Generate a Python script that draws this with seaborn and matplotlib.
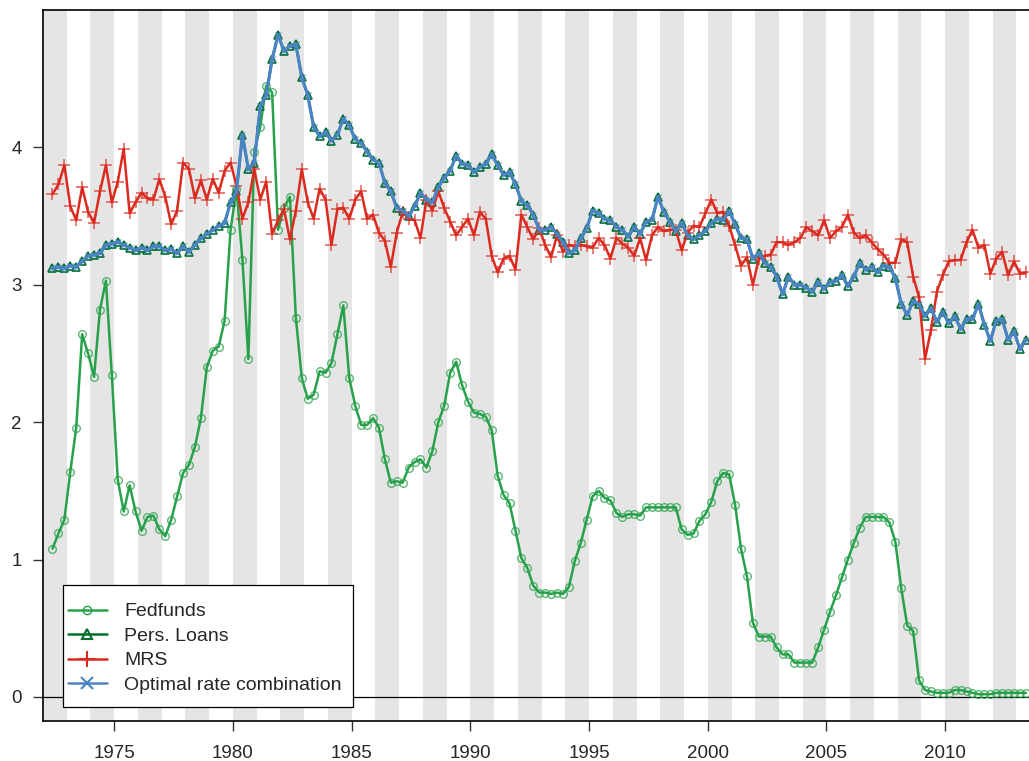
import numpy as np
import pandas as pd
import matplotlib
matplotlib.use('Agg')
import matplotlib.pyplot as plt
from matplotlib.lines import Line2D
from matplotlib.patches import Rectangle
import seaborn as sns

sns.set_style('white')
plt.rcParams['font.family'] = ['Liberation Sans', 'DejaVu Sans']

# quarterly observations, first one in 1972Q2
start_year = 1972.4

fedfunds = [1.08, 1.19, 1.29, 1.64, 1.96, 2.64, 2.50, 2.33, 2.82, 3.03,
            2.34, 1.58, 1.35, 1.54, 1.35, 1.21, 1.31, 1.32, 1.22, 1.17,
            1.29, 1.46, 1.63, 1.69, 1.82, 2.03, 2.40, 2.52, 2.55, 2.74,
            3.40, 3.70, 3.18, 2.46, 3.97, 4.15, 4.45, 4.40, 3.40, 3.56,
            3.64, 2.76, 2.32, 2.17, 2.20, 2.37, 2.36, 2.43, 2.64, 2.85,
            2.32, 2.12, 1.98, 1.98, 2.03, 1.96, 1.73, 1.56, 1.57, 1.56,
            1.67, 1.71, 1.73, 1.67, 1.79, 2.00, 2.12, 2.36, 2.44, 2.27,
            2.15, 2.07, 2.06, 2.04, 1.94, 1.61, 1.47, 1.41, 1.21, 1.01,
            0.94, 0.81, 0.76, 0.76, 0.75, 0.76, 0.75, 0.80, 0.99, 1.12,
            1.29, 1.46, 1.50, 1.45, 1.43, 1.34, 1.31, 1.33, 1.33, 1.32,
            1.38, 1.38, 1.38, 1.38, 1.38, 1.38, 1.22, 1.18, 1.19, 1.28,
            1.33, 1.42, 1.57, 1.63, 1.62, 1.40, 1.08, 0.88, 0.54, 0.44,
            0.44, 0.44, 0.36, 0.31, 0.31, 0.25, 0.25, 0.25, 0.25, 0.36,
            0.49, 0.62, 0.74, 0.87, 1.00, 1.12, 1.23, 1.31, 1.31, 1.31,
            1.31, 1.27, 1.13, 0.79, 0.52, 0.48, 0.12, 0.05, 0.04, 0.03,
            0.03, 0.03, 0.05, 0.05, 0.04, 0.03, 0.02, 0.02, 0.02, 0.03,
            0.03, 0.03, 0.03, 0.03, 0.03]

pers_loans = [3.12, 3.13, 3.12, 3.14, 3.13, 3.17, 3.21, 3.22, 3.23, 3.29,
              3.30, 3.31, 3.29, 3.27, 3.25, 3.27, 3.25, 3.28, 3.28, 3.25,
              3.26, 3.23, 3.28, 3.24, 3.29, 3.34, 3.37, 3.40, 3.43, 3.45,
              3.60, 3.68, 4.09, 3.84, 3.89, 4.30, 4.38, 4.64, 4.82, 4.70,
              4.74, 4.75, 4.51, 4.38, 4.15, 4.08, 4.11, 4.05, 4.09, 4.21,
              4.16, 4.06, 4.03, 3.97, 3.91, 3.89, 3.74, 3.68, 3.56, 3.54,
              3.50, 3.57, 3.67, 3.62, 3.60, 3.71, 3.78, 3.83, 3.94, 3.88,
              3.87, 3.82, 3.86, 3.88, 3.95, 3.87, 3.80, 3.82, 3.73, 3.61,
              3.58, 3.51, 3.40, 3.40, 3.42, 3.37, 3.31, 3.23, 3.25, 3.34,
              3.41, 3.54, 3.52, 3.48, 3.47, 3.42, 3.40, 3.35, 3.42, 3.37,
              3.46, 3.47, 3.64, 3.53, 3.46, 3.39, 3.45, 3.36, 3.33, 3.36,
              3.39, 3.45, 3.48, 3.47, 3.54, 3.44, 3.34, 3.33, 3.19, 3.23,
              3.16, 3.13, 3.06, 2.93, 3.06, 3.00, 3.00, 2.98, 2.95, 3.02,
              2.97, 3.02, 3.03, 3.07, 2.99, 3.06, 3.16, 3.11, 3.13, 3.09,
              3.14, 3.13, 3.05, 2.86, 2.78, 2.88, 2.86, 2.77, 2.83, 2.73,
              2.80, 2.72, 2.77, 2.68, 2.75, 2.75, 2.86, 2.71, 2.59, 2.74,
              2.75, 2.60, 2.66, 2.53, 2.60]

mrs = [3.66, 3.73, 3.87, 3.57, 3.47, 3.71, 3.53, 3.45, 3.68, 3.87,
       3.60, 3.75, 3.99, 3.52, 3.60, 3.67, 3.63, 3.62, 3.77, 3.64,
       3.44, 3.54, 3.89, 3.84, 3.63, 3.76, 3.62, 3.77, 3.67, 3.83,
       3.89, 3.72, 3.48, 3.60, 3.84, 3.62, 3.75, 3.37, 3.47, 3.55,
       3.33, 3.54, 3.84, 3.60, 3.48, 3.70, 3.62, 3.29, 3.55, 3.56,
       3.48, 3.62, 3.68, 3.48, 3.51, 3.38, 3.32, 3.13, 3.38, 3.53,
       3.48, 3.47, 3.34, 3.62, 3.54, 3.68, 3.56, 3.46, 3.36, 3.42,
       3.48, 3.36, 3.53, 3.48, 3.21, 3.09, 3.19, 3.21, 3.11, 3.51,
       3.42, 3.33, 3.41, 3.29, 3.20, 3.36, 3.24, 3.29, 3.28, 3.29,
       3.28, 3.27, 3.34, 3.29, 3.19, 3.34, 3.30, 3.27, 3.21, 3.34,
       3.18, 3.36, 3.42, 3.39, 3.40, 3.40, 3.25, 3.38, 3.43, 3.42,
       3.52, 3.62, 3.52, 3.53, 3.43, 3.29, 3.14, 3.20, 3.00, 3.19,
       3.21, 3.22, 3.31, 3.31, 3.29, 3.31, 3.34, 3.42, 3.39, 3.36,
       3.47, 3.34, 3.39, 3.42, 3.51, 3.38, 3.34, 3.36, 3.31, 3.26,
       3.22, 3.16, 3.16, 3.33, 3.31, 3.06, 2.91, 2.46, 2.67, 2.95,
       3.07, 3.17, 3.18, 3.18, 3.31, 3.40, 3.27, 3.29, 3.08, 3.19,
       3.24, 3.07, 3.17, 3.08, 3.09]

# optimal combination sits on top of the loan rate
optimal = list(pers_loans)

quarters = start_year + 0.25 * np.arange(len(fedfunds))
df = pd.DataFrame({'date': quarters, 'Fedfunds': fedfunds, 'Pers. Loans': pers_loans,
                   'MRS': mrs, 'Optimal rate combination': optimal})

c_fed = '#27a14a'
c_loan = '#006d2c'
c_mrs = '#dc2a1f'
c_opt = '#4a84c4'

W, H = 1029, 761
fig = plt.figure(figsize=(W / 100, H / 100), dpi=100)
ax = fig.add_axes([43 / W, 40 / H, 986 / W, 711 / H])

# shaded even years
for yr in range(1972, 2014, 2):
    ax.axvspan(yr, yr + 1, color='#e5e5e5', lw=0, zorder=0)
ax.axhline(0, color='black', lw=0.9, zorder=1)

sns.lineplot(data=df, x='date', y='Fedfunds', ax=ax, color=c_fed, lw=1.8,
             marker='o', markersize=5.5, markerfacecolor='none',
             markeredgecolor=(0.15, 0.63, 0.29, 0.75), markeredgewidth=1.0, zorder=3)
sns.lineplot(data=df, x='date', y='Pers. Loans', ax=ax, color=c_loan, lw=1.8,
             marker='^', markersize=6, markerfacecolor='none',
             markeredgecolor=c_loan, markeredgewidth=1.2, zorder=3)
sns.lineplot(data=df, x='date', y='MRS', ax=ax, color=c_mrs, lw=1.8,
             marker='+', markersize=8, markeredgecolor=(0.86, 0.16, 0.12, 0.7),
             markeredgewidth=1.2, zorder=4)
sns.lineplot(data=df, x='date', y='Optimal rate combination', ax=ax, color=c_opt, lw=2.3,
             marker='x', markersize=4, markeredgecolor=(0.29, 0.52, 0.77, 0.7),
             markeredgewidth=1.0, zorder=5)

ax.set_xlim(1972.0, 2013.53)
ax.set_ylim(-0.175, 5.0)
ax.set_xticks(range(1975, 2015, 5))
ax.set_yticks([0, 1, 2, 3, 4])
ax.set_xlabel('')
ax.set_ylabel('')
ax.tick_params(axis='both', labelsize=13.5, length=7.3, width=1.0, color='#333333',
               direction='out', left=True, bottom=True)
ax.tick_params(axis='y', pad=8)
ax.tick_params(axis='x', pad=10)
for side in ['left', 'bottom', 'top']:
    ax.spines[side].set_color('black')
    ax.spines[side].set_linewidth(1.2)
ax.spines['right'].set_visible(False)

# legend box drawn by hand so padding matches the original
box = Rectangle((63 / W, 1 - 707 / H), 290 / W, 122 / H, transform=fig.transFigure,
                facecolor='white', edgecolor='black', lw=0.9, zorder=9, clip_on=False)
ax.add_patch(box)

handles = [
    Line2D([], [], color=c_fed, lw=1.8, marker='o', ms=6, mfc='none', mec=c_fed),
    Line2D([], [], color=c_loan, lw=1.8, marker='^', ms=7, mfc='none', mec=c_loan, mew=1.5),
    Line2D([], [], color=c_mrs, lw=1.8, marker='+', ms=11, mew=1.5),
    Line2D([], [], color=c_opt, lw=1.8, marker='x', ms=8, mew=1.5),
]
labels = ['Fedfunds', 'Pers. Loans', 'MRS', 'Optimal rate combination']
leg = ax.legend(handles, labels, loc='upper left', bbox_to_anchor=(63 / W, 1 - 598 / H),
                bbox_transform=fig.transFigure, borderaxespad=0, borderpad=0.25,
                fontsize=14, frameon=False, handlelength=2.0,
                handletextpad=0.9, labelspacing=0.35)
leg.set_zorder(10)

fig.savefig('out.png', dpi=100)
